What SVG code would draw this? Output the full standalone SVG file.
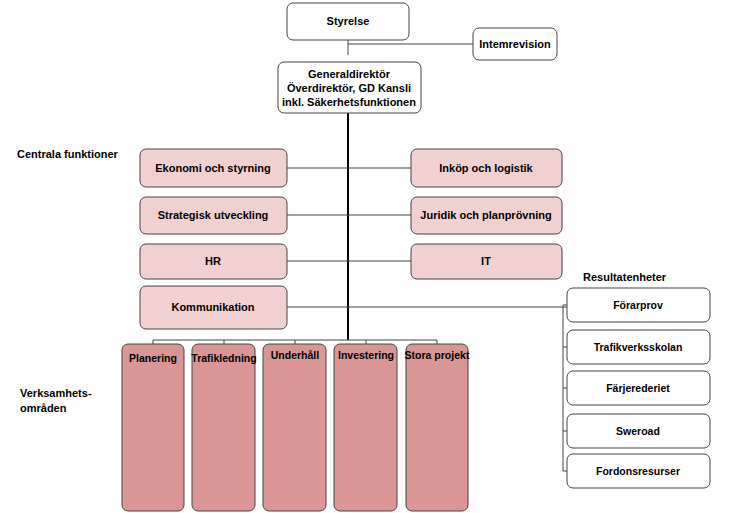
<svg xmlns="http://www.w3.org/2000/svg" width="730" height="513" viewBox="0 0 730 513">
<style>
text{font-family:"Liberation Sans",Arial,sans-serif;font-size:11px;font-weight:bold;fill:#000;text-anchor:middle}
.lbl{text-anchor:start;font-size:11px}
.s{font-size:10.5px}
.w{fill:#fff;stroke:#444;stroke-width:1}
.p{fill:#f0d0d0;stroke:#444;stroke-width:1}
.d{fill:#d99694;stroke:#444;stroke-width:1}
.c{stroke:#444;stroke-width:1;fill:none}
</style>
<rect width="730" height="513" fill="#fff"/>
<g id="connectors">
<path class="c" d="M348 40V55M348 44H473"/>
<path d="M348 113V340" stroke="#000" stroke-width="2"/>
<path class="c" d="M287 168H411M287 215H411M287 261H411M287 307H567"/>
<path class="c" d="M153 344V340H437V344M224 340V344M295 340V344M366 340V344"/>
<path class="c" d="M563 305H567M563 305V471H567M563 347H567M563 388H567M563 431H567"/>
</g>
<g id="styrelse"><rect class="w" x="287" y="3" width="122" height="37" rx="6"/><text x="348" y="25">Styrelse</text></g>
<g id="internrevision"><rect class="w" x="473" y="28" width="84" height="32" rx="6"/><text x="515" y="48">Intemrevision</text></g>
<g id="gd"><rect class="w" x="278" y="62" width="143" height="51" rx="6"/><text x="349" y="78">Generaldirektör</text><text x="349" y="92">Överdirektör, GD Kansli</text><text x="349" y="106">inkl. Säkerhetsfunktionen</text></g>
<text class="lbl" x="17" y="158">Centrala funktioner</text>
<g id="ekonomi"><rect class="p" x="140" y="149" width="147" height="38" rx="6"/><text x="213" y="172">Ekonomi och styrning</text></g>
<g id="strategisk"><rect class="p" x="140" y="197" width="147" height="37" rx="6"/><text x="213" y="219">Strategisk utveckling</text></g>
<g id="hr"><rect class="p" x="140" y="244" width="147" height="35" rx="6"/><text x="213" y="265">HR</text></g>
<g id="kommunikation"><rect class="p" x="140" y="286" width="147" height="43" rx="6"/><text x="213" y="311">Kommunikation</text></g>
<g id="inkop"><rect class="p" x="411" y="149" width="151" height="38" rx="6"/><text x="486" y="172">Inköp och logistik</text></g>
<g id="juridik"><rect class="p" x="411" y="197" width="151" height="37" rx="6"/><text x="486" y="219">Juridik och planprövning</text></g>
<g id="it"><rect class="p" x="411" y="244" width="151" height="35" rx="6"/><text x="486" y="265">IT</text></g>
<text class="lbl" x="583" y="281">Resultatenheter</text>
<g id="forarprov"><rect class="w" x="567" y="288" width="143" height="34" rx="6"/><text class="s" x="638" y="309">Förarprov</text></g>
<g id="trafikverksskolan"><rect class="w" x="567" y="330" width="143" height="34" rx="6"/><text class="s" x="638" y="351">Trafikverksskolan</text></g>
<g id="farjerederiet"><rect class="w" x="567" y="371" width="143" height="34" rx="6"/><text class="s" x="638" y="392">Färjerederiet</text></g>
<g id="sweroad"><rect class="w" x="567" y="414" width="143" height="34" rx="6"/><text class="s" x="638" y="435">Sweroad</text></g>
<g id="fordonsresurser"><rect class="w" x="567" y="454" width="143" height="34" rx="6"/><text class="s" x="638" y="475">Fordonsresurser</text></g>
<text class="lbl" x="20" y="397">Verksamhets-</text>
<text class="lbl" x="20" y="412">områden</text>
<g id="planering"><rect class="d" x="122" y="344" width="62" height="167" rx="6"/><text class="s" x="153" y="362">Planering</text></g>
<g id="trafikledning"><rect class="d" x="192" y="344" width="63" height="167" rx="6"/><text class="s" x="224" y="362">Trafikledning</text></g>
<g id="underhall"><rect class="d" x="263" y="344" width="63" height="167" rx="6"/><text class="s" x="295" y="359">Underhåll</text></g>
<g id="investering"><rect class="d" x="334" y="344" width="63" height="167" rx="6"/><text class="s" x="366" y="359">Investering</text></g>
<g id="stora"><rect class="d" x="406" y="344" width="62" height="167" rx="6"/><text class="s" x="437" y="359">Stora projekt</text></g>
</svg>
